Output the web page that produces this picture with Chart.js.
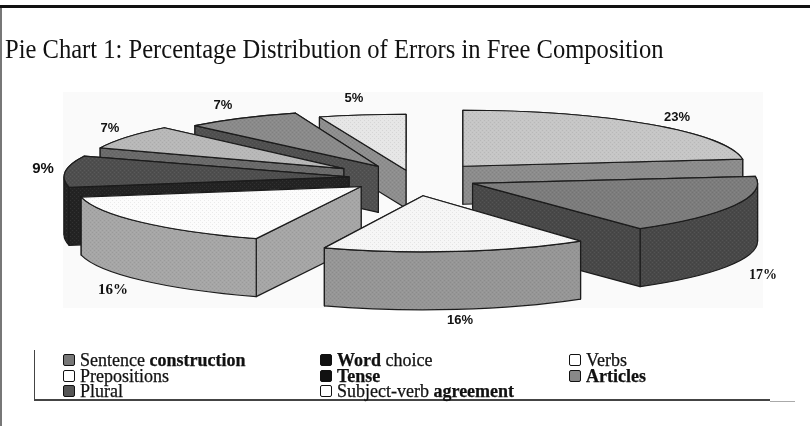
<!DOCTYPE html>
<html>
<head>
<meta charset="utf-8">
<script src="https://cdn.jsdelivr.net/npm/chart.js@4"></script>
<style>
  html, body { margin: 0; padding: 0; background: #fff; }
  #page { position: relative; width: 810px; height: 426px; overflow: hidden; font-family: "Liberation Serif", serif; color: #111; }
  #page div, #page canvas { position: absolute; }
  #topline { left: 0; top: 5px; width: 810px; height: 3px; background: #111; }
  #leftline { left: 0; top: 8px; width: 2px; height: 418px; background: #777; }
  #scan { left: 63px; top: 92px; width: 700px; height: 216px; background: #fafafa; }
  #title { left: 5px; top: 33px; font-size: 27px; line-height: 32px; white-space: nowrap; transform: scaleX(0.91); transform-origin: left top; }
  #legendtick { left: 34px; top: 350px; width: 1px; height: 50px; background: #444; }
  #legendline { left: 34px; top: 399px; width: 736px; height: 2px; background: #444; }
  #legendstub { left: 770px; top: 401px; width: 25px; height: 1px; background: #aaa; }
  .item { font-size: 18px; line-height: 16px; white-space: nowrap; -webkit-text-stroke: 0.25px #111; }
  .item b { font-weight: bold; }
  .swatch { width: 10px; height: 10px; border: 1.5px solid #111; border-radius: 2px; }
</style>
</head>
<body>
<div id="page">
  <div id="scan"></div>
  <canvas id="pie" width="810" height="426"></canvas>
  <div id="topline"></div>
  <div id="leftline"></div>
  <div id="title">Pie Chart 1: Percentage Distribution of Errors in Free Composition</div>
  <div id="legendtick"></div>
  <div id="legendline"></div>
  <div id="legendstub"></div>
</div>
<script>
var categories = ["Sentence construction", "Word choice", "Verbs", "Prepositions", "Tense", "Articles", "Plural", "Subject-verb agreement"];
var percentages = [23, 17, 16, 16, 9, 7, 7, 5];
var boldWords = ["construction", "Word", "", "", "Tense", "Articles", "", "agreement"];

// explode distance, width, thickness and shades of each slice
var sliceOffset = [28, 24, 32, 24, 23, 30, 24, 14];
var sliceWidth = [282, 285, 268, 285, 285, 262, 268, 280];
var sliceDepth = [38, 58, 58, 58, 58, 45, 46, 38];
var topColors = ["#c6c6c6", "#7c7c7c", "#f6f6f6", "#fcfcfc", "#4e4e4e", "#b8b8b8", "#8a8a8a", "#e6e6e6"];
var sideColors = ["#8c8c8c", "#484848", "#969696", "#a6a6a6", "#232323", "#6a6a6a", "#505050", "#8e8e8e"];
var paintOrder = [7, 0, 6, 5, 4, 3, 1, 2];
var swatchColors = ["#777", "#111", "#fff", "#fff", "#111", "#888", "#555", "#fff"];

// where the printed percentages sit
var labelX = [677, 763, 460, 113, 43, 110, 223, 354];
var labelY = [117, 275, 320, 290, 169, 128, 105, 98];
var labelFont = ["bold 13px 'Liberation Sans'", "bold 14px 'Liberation Serif'", "bold 13px 'Liberation Sans'", "bold 15px 'Liberation Serif'", "bold 15px 'Liberation Sans'", "bold 13px 'Liberation Sans'", "bold 13px 'Liberation Sans'", "bold 13px 'Liberation Sans'"];

var legendX = [63, 320, 569, 63, 320, 569, 63, 320];
var legendY = [352, 352, 352, 368, 368, 368, 383, 383];

var OFFSET_SCALE = 2.75;
var RY = 56;

// printed halftone, a small tile of the shade with darker dots
function grain(color) {
  var tile = document.createElement("canvas");
  tile.width = 4;
  tile.height = 4;
  var t = tile.getContext("2d");
  t.fillStyle = color;
  t.fillRect(0, 0, 4, 4);
  t.fillStyle = "rgba(0,0,0,0.07)";
  t.fillRect(0, 0, 1, 1);
  t.fillRect(2, 2, 1, 1);
  t.fillStyle = "rgba(255,255,255,0.07)";
  t.fillRect(2, 0, 1, 1);
  t.fillRect(0, 2, 1, 1);
  return tile;
}

function drawFace(ctx, color, build) {
  ctx.beginPath();
  build();
  ctx.closePath();
  ctx.fillStyle = ctx.createPattern(grain(color), "repeat");
  ctx.fill();
  ctx.lineWidth = 1.2;
  ctx.strokeStyle = "#1c1c1c";
  ctx.stroke();
}

var pie3d = {
  id: "pie3d",
  beforeDatasetsDraw: function (chart) {
    var ctx = chart.ctx;
    var arcs = chart.getDatasetMeta(0).data;
    ctx.save();
    ctx.lineJoin = "round";
    paintOrder.forEach(function (i) {
      var arc = arcs[i];
      var s = arc.startAngle;
      var e = arc.endAngle;
      var mid = (s + e) / 2;
      var rx = sliceWidth[i];
      var off = arc.options.offset * OFFSET_SCALE;
      var ax = arc.x + Math.cos(mid) * off;
      var ay = arc.y + Math.sin(mid) * off * RY / 275;
      var d = sliceDepth[i];
      var faces = [s, e].map(function (a) {
        var px = ax + Math.cos(a) * rx;
        var py = ay + Math.sin(a) * RY;
        return {
          meanY: (ay + py) / 2 + d / 2,
          build: function () {
            ctx.moveTo(ax, ay);
            ctx.lineTo(px, py);
            ctx.lineTo(px, py + d);
            ctx.lineTo(ax, ay + d);
          }
        };
      });
      // the curved wall has to be split where the ellipse turns back
      var cuts = [s];
      [0, Math.PI].forEach(function (a) {
        if (a > s && a < e) cuts.push(a);
      });
      cuts.push(e);
      for (var c = 0; c < cuts.length - 1; c++) {
        (function (a0, a1) {
          faces.push({
            meanY: ay + Math.sin((a0 + a1) / 2) * RY * 0.8 + d / 2,
            build: function () {
              ctx.ellipse(ax, ay, rx, RY, 0, a0, a1);
              ctx.ellipse(ax, ay + d, rx, RY, 0, a1, a0, true);
            }
          });
        })(cuts[c], cuts[c + 1]);
      }
      faces.sort(function (a, b) { return a.meanY - b.meanY; });
      faces.forEach(function (f) { drawFace(ctx, sideColors[i], f.build); });
      drawFace(ctx, topColors[i], function () {
        ctx.moveTo(ax, ay);
        ctx.ellipse(ax, ay, rx, RY, 0, s, e);
      });
    });
    ctx.restore();
    return false;
  },
  afterDraw: function (chart) {
    var ctx = chart.ctx;
    ctx.save();
    ctx.fillStyle = "#111";
    ctx.textAlign = "center";
    ctx.textBaseline = "middle";
    percentages.forEach(function (v, i) {
      ctx.font = labelFont[i];
      ctx.fillText(v + "%", labelX[i], labelY[i]);
    });
    ctx.restore();
  }
};

new Chart(document.getElementById("pie"), {
  type: "pie",
  data: {
    labels: categories,
    datasets: [{
      data: percentages,
      backgroundColor: topColors,
      offset: sliceOffset,
      radius: 100
    }]
  },
  options: {
    responsive: false,
    animation: false,
    layout: { padding: { left: 14, bottom: 70 } },
    plugins: { legend: { display: false }, tooltip: { enabled: false } }
  },
  plugins: [pie3d]
});

// printed legend under the chart
var page = document.getElementById("page");
categories.forEach(function (name, i) {
  var swatch = document.createElement("div");
  swatch.className = "swatch";
  swatch.style.left = legendX[i] + "px";
  swatch.style.top = (legendY[i] + 2) + "px";
  swatch.style.background = swatchColors[i];
  page.appendChild(swatch);
  var item = document.createElement("div");
  item.className = "item";
  item.style.left = (legendX[i] + 17) + "px";
  item.style.top = legendY[i] + "px";
  item.innerHTML = boldWords[i] ? name.replace(boldWords[i], "<b>" + boldWords[i] + "</b>") : name;
  page.appendChild(item);
});
</script>
</body>
</html>
